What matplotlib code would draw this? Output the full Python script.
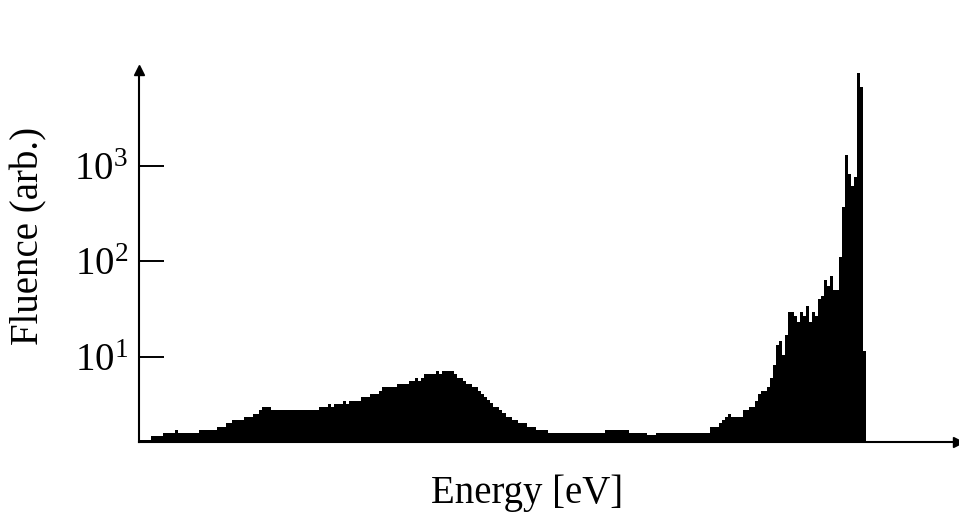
import numpy as np
import matplotlib
matplotlib.use("Agg")
import matplotlib.pyplot as plt

# Fluence per energy bin (arbitrary units)
fluence = [
    1.35, 1.35, 1.35, 1.35, 1.49, 1.49, 1.49, 1.49, 1.61, 1.61,
    1.61, 1.61, 1.72, 1.61, 1.61, 1.61, 1.61, 1.61, 1.61, 1.61,
    1.72, 1.72, 1.72, 1.72, 1.72, 1.72, 1.86, 1.86, 1.86, 2.05,
    2.05, 2.19, 2.19, 2.19, 2.19, 2.37, 2.37, 2.37, 2.53, 2.53,
    2.78, 3.00, 3.00, 3.00, 2.78, 2.78, 2.78, 2.78, 2.78, 2.78,
    2.78, 2.78, 2.78, 2.78, 2.78, 2.78, 2.78, 2.78, 2.78, 2.78,
    3.00, 3.00, 3.00, 3.21, 3.00, 3.21, 3.21, 3.21, 3.46, 3.21,
    3.46, 3.46, 3.46, 3.46, 3.81, 3.81, 3.81, 4.12, 4.12, 4.12,
    4.44, 4.81, 4.81, 4.81, 4.81, 4.81, 5.21, 5.21, 5.21, 5.21,
    5.60, 5.60, 6.02, 5.60, 6.02, 6.59, 6.59, 6.59, 6.59, 7.08,
    6.59, 7.08, 7.08, 7.08, 7.08, 6.59, 6.07, 6.07, 5.60, 5.21,
    5.21, 4.81, 4.81, 4.44, 4.12, 3.81, 3.54, 3.27, 3.00, 3.00,
    2.78, 2.57, 2.37, 2.37, 2.19, 2.19, 2.02, 2.02, 2.02, 1.86,
    1.86, 1.86, 1.72, 1.72, 1.72, 1.72, 1.61, 1.61, 1.61, 1.61,
    1.61, 1.61, 1.61, 1.61, 1.61, 1.61, 1.61, 1.61, 1.61, 1.61,
    1.61, 1.61, 1.61, 1.61, 1.61, 1.72, 1.72, 1.72, 1.72, 1.72,
    1.72, 1.72, 1.72, 1.61, 1.61, 1.61, 1.61, 1.61, 1.61, 1.51,
    1.51, 1.51, 1.61, 1.61, 1.61, 1.61, 1.61, 1.61, 1.61, 1.61,
    1.61, 1.61, 1.61, 1.61, 1.61, 1.61, 1.61, 1.61, 1.61, 1.61,
    1.86, 1.86, 1.86, 2.02, 2.19, 2.37, 2.53, 2.37, 2.37, 2.37,
    2.37, 2.78, 2.78, 3.00, 3.00, 3.48, 4.09, 4.44, 4.44, 4.88,
    6.02, 8.24, 13.4, 14.5, 10.5, 17.0, 29.6, 29.6, 26.9, 23.4,
    29.6, 26.9, 34.2, 23.4, 29.6, 26.9, 40.6, 43.6, 64.1, 55.5,
    69.5, 50.4, 50.4, 112.0, 367.0, 1280.0, 809.0, 605.0, 752.0, 9250.0,
    6710.0, 11.4,
]
ytick_values = [10, 100, 1000]
ytick_labels = [r"$10^{1}$", r"$10^{2}$", r"$10^{3}$"]
x_label = "Energy [eV]"
y_label = "Fluence (arb.)"

plt.rcParams["font.family"] = ["Liberation Serif", "DejaVu Serif"]
plt.rcParams["mathtext.fontset"] = "custom"
plt.rcParams["mathtext.rm"] = "Liberation Serif"
plt.rcParams["mathtext.it"] = "Liberation Serif:italic"
plt.rcParams["mathtext.bf"] = "Liberation Serif:bold"

W, H = 959, 515
fig = plt.figure(figsize=(W / 100, H / 100), dpi=100)
x0, x1 = 139, 958
y0, y1 = 442, 70
ax = fig.add_axes([x0 / W, 1 - y0 / H, (x1 - x0) / W, (y0 - y1) / H])

n = len(fluence)
edges = np.arange(n + 1)
ax.stairs(fluence, edges, fill=True, baseline=1.0, color="black", linewidth=0)

ax.set_yscale("log")
ax.set_ylim(1.285, 1.0e4)
ax.set_xlim(0, n * (x1 - x0) / 727.0)

ax.spines["top"].set_visible(False)
ax.spines["right"].set_visible(False)
for s in ("left", "bottom"):
    ax.spines[s].set_linewidth(1.5)
    ax.spines[s].set_color("black")

ax.set_xticks([])
ax.yaxis.set_minor_locator(matplotlib.ticker.NullLocator())
ax.set_yticks(ytick_values)
ax.set_yticklabels(ytick_labels)
ax.tick_params(axis="y", direction="in", length=18, width=1.4, labelsize=28, pad=8)

# arrow heads
ax.plot([0], [1], marker="^", markersize=7, color="black", transform=ax.transAxes, clip_on=False)
ax.plot([1], [0], marker=">", markersize=7, color="black", transform=ax.transAxes, clip_on=False)

ax.set_xlabel(x_label, fontsize=28)
ax.set_ylabel(y_label, fontsize=28)
ax.xaxis.set_label_coords(0.474, -0.088)
ax.yaxis.set_label_coords(-0.112, 0.554)

fig.savefig("out.png", dpi=100)
